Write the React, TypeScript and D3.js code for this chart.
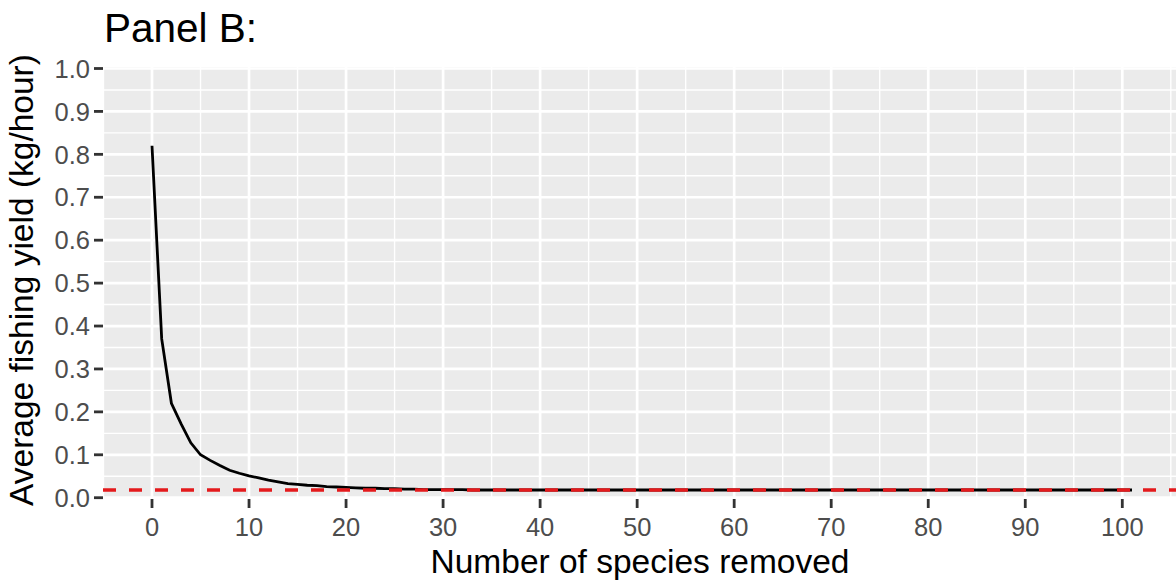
import React from "react";
import * as d3 from "d3";

const xValues: number[] = Array.from({ length: 102 }, (_, i) => i);
const yieldValues: number[] = [
  0.82, 0.37, 0.22, 0.172, 0.128, 0.1, 0.087, 0.075, 0.064, 0.057,
  0.051, 0.046, 0.041, 0.037, 0.033, 0.031, 0.029, 0.028, 0.026, 0.025,
  0.024, 0.023, 0.022, 0.022, 0.021, 0.021, 0.02, 0.02, 0.019, 0.019,
  0.019, 0.019, 0.019, 0.018, 0.018, 0.018, 0.018, 0.018, 0.018, 0.018,
  0.018, 0.018, 0.018, 0.018, 0.018, 0.018, 0.018, 0.018, 0.018, 0.018,
  0.018, 0.018, 0.018, 0.018, 0.018, 0.018, 0.018, 0.018, 0.018, 0.018,
  0.018, 0.018, 0.018, 0.018, 0.018, 0.018, 0.018, 0.018, 0.018, 0.018,
  0.018, 0.018, 0.018, 0.018, 0.018, 0.018, 0.018, 0.018, 0.018, 0.018,
  0.018, 0.018, 0.018, 0.018, 0.018, 0.018, 0.018, 0.018, 0.018, 0.018,
  0.018, 0.018, 0.018, 0.018, 0.018, 0.018, 0.018, 0.018, 0.018, 0.018,
  0.018, 0.018,
];
const thresholdValue = 0.018;
const xTicks: number[] = [0, 10, 20, 30, 40, 50, 60, 70, 80, 90, 100];
const yTicks: number[] = [0, 0.1, 0.2, 0.3, 0.4, 0.5, 0.6, 0.7, 0.8, 0.9, 1.0];
const xMinor: number[] = [-5, 5, 15, 25, 35, 45, 55, 65, 75, 85, 95, 105];
const yMinor: number[] = [0.05, 0.15, 0.25, 0.35, 0.45, 0.55, 0.65, 0.75, 0.85, 0.95];

const W = 1176;
const H = 582;
const panelLeft = 103;
const panelRight = 1181;
const panelTop = 67;
const panelBottom = 499;
const FONT = "'Liberation Sans', Arial, sans-serif";

export default function App() {
  const x = d3.scaleLinear().domain([-5.05, 106.05]).range([panelLeft, panelRight]);
  const y = d3.scaleLinear().domain([-0.003, 1.0035]).range([panelBottom, panelTop]);
  const line = d3
    .line<number>()
    .x((_, i) => x(xValues[i]))
    .y((d) => y(d));

  return (
    <svg
      width={W}
      height={H}
      style={{ position: "absolute", left: 0, top: 0, background: "#fff" }}
    >
      <defs>
        <clipPath id="panel">
          <rect x={panelLeft} y={panelTop} width={panelRight - panelLeft} height={panelBottom - panelTop} />
        </clipPath>
      </defs>
      <rect x={panelLeft} y={panelTop} width={panelRight - panelLeft} height={panelBottom - panelTop} fill="#EBEBEB" />
      <g clipPath="url(#panel)">
        {yMinor.map((v) => (
          <line key={"ym" + v} x1={panelLeft} x2={panelRight} y1={y(v)} y2={y(v)} stroke="#fff" strokeWidth={1.4} />
        ))}
        {xMinor.map((v) => (
          <line key={"xm" + v} x1={x(v)} x2={x(v)} y1={panelTop} y2={panelBottom} stroke="#fff" strokeWidth={1.4} />
        ))}
        {yTicks.map((v) => (
          <line key={"yM" + v} x1={panelLeft} x2={panelRight} y1={y(v)} y2={y(v)} stroke="#fff" strokeWidth={2.7} />
        ))}
        {xTicks.map((v) => (
          <line key={"xM" + v} x1={x(v)} x2={x(v)} y1={panelTop} y2={panelBottom} stroke="#fff" strokeWidth={2.7} />
        ))}
        <path d={line(yieldValues) || ""} fill="none" stroke="#000" strokeWidth={2.8} />
        <line
          x1={panelLeft}
          x2={panelRight}
          y1={y(thresholdValue)}
          y2={y(thresholdValue)}
          stroke="#E41A1C"
          strokeWidth={3.4}
          strokeDasharray="13 13"
        />
      </g>
      {yTicks.map((v) => (
        <g key={"yt" + v}>
          <line x1={panelLeft - 9} x2={panelLeft} y1={y(v)} y2={y(v)} stroke="#333" strokeWidth={2.8} />
          <text
            x={panelLeft - 13}
            y={y(v)}
            dy="0.36em"
            textAnchor="end"
            fontFamily={FONT}
            fontSize={25.5}
            fill="#4D4D4D"
          >
            {v.toFixed(1)}
          </text>
        </g>
      ))}
      {xTicks.map((v) => (
        <g key={"xt" + v}>
          <line x1={x(v)} x2={x(v)} y1={panelBottom} y2={panelBottom + 9} stroke="#333" strokeWidth={2.8} />
          <text x={x(v)} y={536} textAnchor="middle" fontFamily={FONT} fontSize={25.5} fill="#4D4D4D">
            {v}
          </text>
        </g>
      ))}
      <text x={104} y={42} fontFamily={FONT} fontSize={40.5} fill="#000">
        Panel B:
      </text>
      <text x={640} y={573} textAnchor="middle" fontFamily={FONT} fontSize={33.5} fill="#000">
        Number of species removed
      </text>
      <text
        transform={`translate(33, ${(panelTop + panelBottom) / 2 - 3}) rotate(-90)`}
        textAnchor="middle"
        fontFamily={FONT}
        fontSize={33.5}
        fill="#000"
      >
        Average fishing yield (kg/hour)
      </text>
    </svg>
  );
}
